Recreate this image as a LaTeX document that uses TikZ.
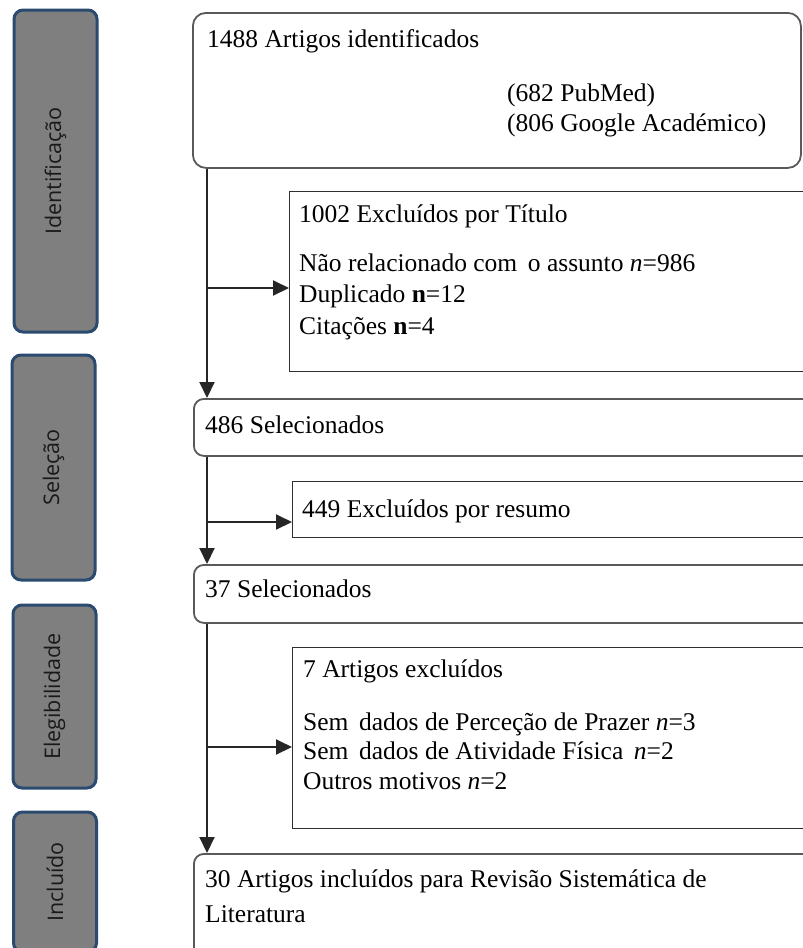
\documentclass[tikz,border=0pt]{standalone}
\usepackage{fontspec}
\setmainfont{Liberation Serif}
\newfontfamily\sidefont{Open Sans}
\usetikzlibrary{arrows.meta}
\definecolor{sidegray}{HTML}{7F7F7F}
\definecolor{sideblue}{HTML}{2A4A70}
\definecolor{boxline}{HTML}{303030}
\begin{document}
\begin{tikzpicture}[x=1pt,y=-1pt,
  sidebox/.style={draw=sideblue, fill=sidegray, line width=3pt, rounded corners=9pt,
    rotate=90, minimum height=83pt, inner sep=0pt, font=\sidefont\fontsize{21.5}{24}\selectfont, text=black!90},
  mainbox/.style={draw=boxline, line width=1.3pt, anchor=north west, inner sep=0pt},
  roundbox/.style={mainbox, draw=black!65, line width=1.8pt, rounded corners=10pt},
  txt/.style={anchor=base west, inner sep=0pt, font=\fontsize{25.5}{30}\selectfont},
  arr/.style={draw=black!85, line width=2pt, -{Triangle[length=16pt,width=15pt]}},
  trunkline/.style={draw=black!85, line width=2pt}
]
\useasboundingbox (0,0) rectangle (803,948);
\clip (0,0) rectangle (803,948);

% side labels
\node[sidebox, minimum width=322pt] (sid) at (55.5,171) {Identificação};
\node[sidebox, minimum width=225pt] (sse) at (53.5,467.5) {Seleção};
\node[sidebox, minimum width=183pt] (sel) at (54.5,696.5) {Elegibilidade};
\node[sidebox, minimum width=140pt] (sin) at (55,882) {Incluído};

% main boxes
\node[roundbox, rounded corners=13pt, minimum width=608pt, minimum height=155pt] (b1) at (192,12) {};
\node[mainbox, minimum width=540pt, minimum height=180pt] (b1002) at (289,191) {};
\node[roundbox, minimum width=630pt, minimum height=57pt] (b486) at (193,398) {};
\node[mainbox, minimum width=540pt, minimum height=56pt] (b449) at (292,481) {};
\node[roundbox, minimum width=630pt, minimum height=58pt] (b37) at (193,564) {};
\node[mainbox, minimum width=540pt, minimum height=181pt] (b7) at (292,647) {};
\node[roundbox, minimum width=630pt, minimum height=110pt] (b30) at (193,853) {};

% texts
\node[txt] (t1a) at (207,47) {1488 Artigos identificados};
\node[txt] (t1b) at (507,101) {(682 PubMed)};
\node[txt] (t1c) at (507,131) {(806 Google Académico)};

\node[txt] (t2a) at (299,222) {1002 Excluídos por Título};
\node[txt] (t2b) at (299,271) {Não relacionado com\, o assunto \textit{n}=986};
\node[txt] (t2c) at (299,302) {Duplicado \textbf{n}=12};
\node[txt] (t2d) at (299,334) {Citações \textbf{n}=4};

\node[txt] (t3) at (205,433) {486 Selecionados};
\node[txt] (t4) at (302,517) {449 Excluídos por resumo};
\node[txt] (t5) at (205,597) {37 Selecionados};

\node[txt] (t6a) at (303,677) {7 Artigos excluídos};
\node[txt] (t6b) at (303,730) {Sem\, dados de Perceção de Prazer \textit{n}=3};
\node[txt] (t6c) at (303,759) {Sem\, dados de Atividade Física\, \textit{n}=2};
\node[txt] (t6d) at (303,789) {Outros motivos \textit{n}=2};

\node[txt] (t7a) at (205,887) {30 Artigos incluídos para Revisão Sistemática de};
\node[txt] (t7b) at (205,922) {Literatura};

% connectors
\coordinate (trunk) at (207,0);
\coordinate (j1) at (207,288);
\coordinate (j2) at (207,522);
\coordinate (j3) at (207,747);

\draw[arr] (b1.south -| trunk) -- (b486.north -| trunk);
\draw[arr] (j1) -- (j1 -| b1002.west);
\draw[arr] (b486.south -| trunk) -- (b37.north -| trunk);
\draw[arr] (j2) -- (j2 -| b449.west);
\draw[arr] (b37.south -| trunk) -- (b30.north -| trunk);
\draw[arr] (j3) -- (j3 -| b7.west);
\end{tikzpicture}
\end{document}
